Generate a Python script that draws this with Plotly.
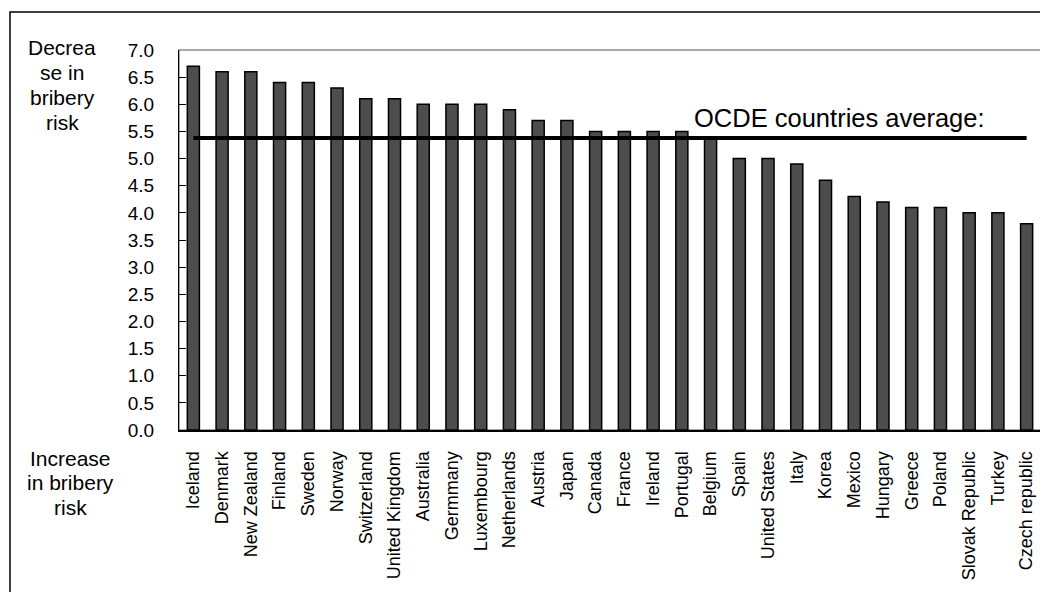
import plotly.graph_objects as go

countries = ["Iceland", "Denmark", "New Zealand", "Finland", "Sweden", "Norway",
             "Switzerland", "United Kingdom", "Australia", "Germmany", "Luxembourg",
             "Netherlands", "Austria", "Japan", "Canada", "France", "Ireland",
             "Portugal", "Belgium", "Spain", "United States", "Italy", "Korea",
             "Mexico", "Hungary", "Greece", "Poland", "Slovak Republic", "Turkey",
             "Czech republic"]
scores = [6.7, 6.6, 6.6, 6.4, 6.4, 6.3, 6.1, 6.1, 6.0, 6.0, 6.0, 5.9, 5.7, 5.7,
          5.5, 5.5, 5.5, 5.5, 5.4, 5.0, 5.0, 4.9, 4.6, 4.3, 4.2, 4.1, 4.1, 4.0,
          4.0, 3.8]
ocde_average = 5.38
average_label = "OCDE countries average:"
top_label = ["Decrea", "se in", "bribery", "risk"]
bottom_label = ["Increase", "in bribery", "risk"]

OFF = 8  # default page body margin
W, H = 1048 - OFF, 592 - OFF
# plot area in screen pixels
PX0, PX1, PY0, PY1 = 179, 1041, 50, 430
L, R, T, B = PX0 - OFF, W - (PX1 - OFF), PY0 - OFF, H - (PY1 - OFF)
pw, ph = W - L - R, H - T - B

def px_x(x):
    return (x - PX0) / pw

def px_y(y):
    return (PY1 - y) / ph

FONT = "Liberation Sans, Arial, sans-serif"

fig = go.Figure()
fig.add_trace(go.Bar(
    x=countries, y=scores,
    marker=dict(color="#4d4d4d", line=dict(color="#000000", width=1.5)),
    width=0.42, showlegend=False, hoverinfo="x+y",
))
fig.add_trace(go.Scatter(
    x=[countries[0], countries[-1]], y=[ocde_average, ocde_average],
    mode="lines", line=dict(color="#000000", width=4), showlegend=False,
))

annotations = [
    dict(text=average_label, x=22.5, y=5.75, xref="x", yref="y",
         showarrow=False, font=dict(size=25.5, family=FONT),
         xanchor="center", yanchor="middle"),
]
for txt, yy in zip(top_label, [48, 73, 98, 122]):
    annotations.append(dict(text=txt, xref="paper", yref="paper",
                            x=px_x(62), y=px_y(yy), showarrow=False,
                            font=dict(size=21, family=FONT),
                            xanchor="center", yanchor="middle"))
for txt, yy in zip(bottom_label, [458, 483, 507]):
    annotations.append(dict(text=txt, xref="paper", yref="paper",
                            x=px_x(70), y=px_y(yy), showarrow=False,
                            font=dict(size=21, family=FONT),
                            xanchor="center", yanchor="middle"))

fig.update_layout(
    width=W, height=H,
    margin=dict(l=L, r=R, t=T, b=B, autoexpand=False),
    paper_bgcolor="white", plot_bgcolor="white",
    font=dict(family=FONT, color="#000000"),
    xaxis=dict(
        type="category", tickangle=-90, showline=True, linecolor="#000000",
        linewidth=2, ticks="", showgrid=False, zeroline=False,
        tickfont=dict(size=18, family=FONT), ticklabelstandoff=12,
        range=[-0.5, len(countries) - 0.5],
    ),
    yaxis=dict(
        range=[0, 7], dtick=0.5, tickformat=".1f", showline=True,
        linecolor="#000000", linewidth=1, ticks="inside", ticklen=7,
        tickcolor="#000000", showgrid=False, zeroline=False,
        tickfont=dict(size=19, family=FONT), ticklabelstandoff=20,
    ),
    shapes=[
        dict(type="rect", xref="paper", yref="paper", x0=0, x1=1, y0=0, y1=1,
             line=dict(color="#8c8c8c", width=1.5), layer="below"),
        dict(type="rect", xref="paper", yref="paper",
             x0=px_x(10), x1=px_x(1070), y0=px_y(620), y1=px_y(12),
             line=dict(color="#000000", width=1.5)),
    ],
    annotations=annotations,
)

fig.write_html("out.html")
